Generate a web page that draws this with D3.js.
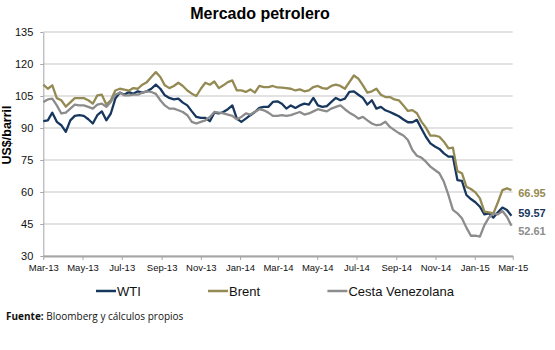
<!DOCTYPE html>
<html>
<head>
<meta charset="utf-8">
<script src="https://cdn.jsdelivr.net/npm/d3@7"></script>
<style>
  body { margin: 0; background: #fff; }
  svg { font-family: "Liberation Sans", Arial, sans-serif; }
</style>
</head>
<body>
<div id="chart"></div>
<script>
/**
 * DATA (weekly closes)
 * */
const firstWeek = "2013-03-01";

const wti = [
  93.2, 93.6, 97.2, 92.9, 91.3, 88.2, 93.6, 95.7, 96, 95.7, 94.1, 92.1, 96, 97.8, 93.6, 96.8,
  103.8, 106.6, 105.6, 106.9, 106, 107.2, 106.6, 107.2, 108.4, 110.3, 108.4, 105.3,
  104.1, 103.4, 103.8, 101.9, 100.6, 97.8, 95.2, 94.7, 94.7, 93.2, 97.2, 96.8, 97.5, 98.8, 100.6,
  94.4, 92.9, 94.4, 96, 97.5, 99.4, 99.9, 99.9, 102.2, 102.5, 101.4,
  99.1, 100.6, 99.4, 100.6, 101.4, 101, 104.1, 100.6, 99.9, 100.3, 102.2, 104.1, 103, 103.8,
  106.9, 107.2, 105.6, 104.1, 101, 103, 99.1, 99.9, 98.3,
  97.5, 96.5, 95.5, 94, 92.7, 92.7, 93.8, 89.8, 85.9, 82.8, 81.3, 80.2, 78.1, 76.6, 76.6,
  65.6, 65.2, 58.6, 56.7, 55.2, 53.1, 49.5, 50, 48, 50.5, 52.7, 51.6, 48.9
];

const brent = [
  110.3, 108.4, 110, 104, 103, 100, 102, 104, 104, 104, 103, 101.4, 105.3, 105.6, 101, 103,
  107.6, 108.4, 108, 107.5, 108.7, 108.4, 110.3, 111.5, 113.9, 116.2, 113.9, 110,
  108.7, 109.7, 111.2, 109.7, 107.6, 106.1, 105, 108.4, 111.2, 110.3, 111.8, 108.7, 110,
  111.5, 112.3, 107.6, 107.6, 106.9, 108.1, 106.6, 109.7, 109.2, 109.2, 109.7, 109, 108.9,
  108.7, 108.4, 107.6, 108.1, 107.2, 107.6, 109.2, 109.7, 108.7, 108.4, 109.7, 110.3, 109.7,
  108.4, 111.5, 114.6, 113.1, 110, 106.6, 107.2, 108.4, 105.6, 104.5, 104.5, 103.4, 103, 100.6,
  98, 98.4, 96.9, 93, 90.2, 86.4, 86.4, 85.9, 83.6, 80.5, 80.8, 69.8, 68.8, 62.5, 61.4,
  59.8, 57, 50.8, 50.5, 50, 55.2, 60.9, 61.7, 60.9
];

const cesta = [
  102.2, 103.4, 103.8, 100.6, 96.8, 97.2, 99.1, 101, 100.6, 100.6, 99.9, 99.1, 101, 101.4, 99.9,
  102.2, 105.6, 106.6, 105.3, 105.3, 105.6, 105.6, 106.6, 107.2, 106.9, 106, 103, 100.6,
  99.1, 99.1, 98.3, 97.5, 96, 92.9, 92.1, 92.9, 93.6, 95.2, 97.5, 97.2, 96.8, 96.3, 95.7,
  94.1, 95.2, 96.8, 96.3, 97.5, 98.8, 98.3, 97.2, 95.7, 95.7, 96,
  95.7, 96, 96.8, 97.5, 96.3, 96.8, 97.8, 98.8, 98.3, 97.8, 99.1, 99.9, 100.6, 98.8, 97.2,
  96, 94.4, 95.2, 93.6, 92.1, 91.3, 91.6, 92.9, 90.5,
  89, 87.6, 86.5, 84.4, 79.7, 77, 76.1, 74.2, 71.9, 70.3, 68.8, 64.8, 58.6, 51.6, 50,
  47.7, 43.3, 39.5, 39.5, 39.1, 44.5, 48, 50, 49.5, 51.1, 48.4, 44.2
];

const seriesNames = ["WTI", "Brent", "Cesta Venezolana"];
const endLabels = ["59.57", "66.95", "52.61"];
const yTicks = [30, 45, 60, 75, 90, 105, 120, 135];
const xTickLabels = ["Mar-13", "May-13", "Jul-13", "Sep-13", "Nov-13", "Jan-14", "Mar-14",
  "May-14", "Jul-14", "Sep-14", "Nov-14", "Jan-15", "Mar-15"];

/**
 * CONSTANTS
 * */
const width = 555, height = 350;
const plot = { left: 43.3, right: 512.7, top: 32, bottom: 256 };
const colors = ["#17375e", "#948a54", "#8c8c8c"];
const labelShift = [-3, 3, 5];

const parseTick = d3.timeParse("%b-%y");
const start = d3.timeParse("%Y-%m-%d")(firstWeek);
const xTicks = xTickLabels.map(parseTick);

const series = [wti, brent, cesta].map((vals, s) => ({
  name: seriesNames[s],
  color: colors[s],
  values: vals.map((v, i) => ({ date: d3.timeDay.offset(start, 7 * i), value: v }))
}));

const x = d3.scaleTime()
  .domain([xTicks[0], xTicks[xTicks.length - 1]])
  .range([plot.left, plot.right]);

const y = d3.scaleLinear()
  .domain([30, 135])
  .range([plot.bottom, plot.top]);

const svg = d3.select("#chart")
  .append("svg")
  .attr("width", width)
  .attr("height", height);

// gridlines
svg.selectAll(".grid")
  .data(yTicks)
  .join("line")
  .attr("class", "grid")
  .attr("x1", plot.left)
  .attr("x2", plot.right)
  .attr("y1", d => y(d))
  .attr("y2", d => y(d))
  .attr("stroke", "#d9d9d9")
  .attr("stroke-width", 1.5);

// y axis
const yAxis = svg.append("g")
  .attr("transform", `translate(${plot.left},0)`)
  .call(d3.axisLeft(y).tickValues(yTicks).tickSize(3).tickSizeOuter(0).tickPadding(7));
yAxis.select(".domain").attr("stroke", "#a6a6a6");
yAxis.selectAll(".tick line").attr("stroke", "#a6a6a6");
yAxis.selectAll("text").attr("font-size", 11).attr("fill", "#111").attr("font-family", null);

// x axis
const xAxis = svg.append("g")
  .attr("transform", `translate(0,${plot.bottom})`)
  .call(d3.axisBottom(x).tickValues(xTicks).tickFormat((d, i) => xTickLabels[i])
    .tickSize(4).tickSizeOuter(0).tickPadding(4));
xAxis.select(".domain").attr("stroke", "#a6a6a6").attr("stroke-width", 2);
xAxis.selectAll(".tick line").attr("stroke", "#a6a6a6");
xAxis.selectAll("text").attr("font-size", 9.5).attr("fill", "#111").attr("font-family", null);

// lines
const line = d3.line()
  .x(d => x(d.date))
  .y(d => y(d.value));

svg.selectAll(".series")
  .data(series)
  .join("path")
  .attr("class", "series")
  .attr("d", d => line(d.values))
  .attr("fill", "none")
  .attr("stroke", d => d.color)
  .attr("stroke-width", 2.3)
  .attr("stroke-linejoin", "round");

// end labels
svg.selectAll(".endlabel")
  .data(series)
  .join("text")
  .attr("class", "endlabel")
  .attr("x", plot.right + 5.5)
  .attr("y", (d, i) => y(d.values[d.values.length - 1].value) + labelShift[i])
  .attr("dy", "0.35em")
  .attr("font-size", 11)
  .attr("font-weight", "bold")
  .attr("fill", d => d.color)
  .text((d, i) => endLabels[i]);

// title + y label
svg.append("text")
  .attr("x", 260)
  .attr("y", 19)
  .attr("text-anchor", "middle")
  .attr("font-size", 16)
  .attr("font-weight", "bold")
  .text("Mercado petrolero");

svg.append("text")
  .attr("transform", "translate(11,135) rotate(-90)")
  .attr("text-anchor", "middle")
  .attr("font-size", 12.5)
  .attr("font-weight", "bold")
  .text("US$/barril");

// legend
const legendX = [96, 208, 327.4];
const legend = svg.selectAll(".legend")
  .data(series)
  .join("g")
  .attr("class", "legend")
  .attr("transform", (d, i) => `translate(${legendX[i]},291)`);
legend.append("line")
  .attr("x1", 0).attr("x2", 20)
  .attr("stroke", d => d.color)
  .attr("stroke-width", 2.5);
legend.append("text")
  .attr("x", 21)
  .attr("dy", "0.36em")
  .attr("font-size", 13)
  .attr("fill", "#111")
  .text(d => d.name);

// source
const src = svg.append("text")
  .attr("x", 6)
  .attr("y", 319.5)
  .attr("font-size", 10)
  .attr("font-family", "'Open Sans', sans-serif")
  .attr("fill", "#111");
src.append("tspan").attr("font-weight", "bold").text("Fuente:");
src.append("tspan").text(" Bloomberg y cálculos propios");
</script>
</body>
</html>
